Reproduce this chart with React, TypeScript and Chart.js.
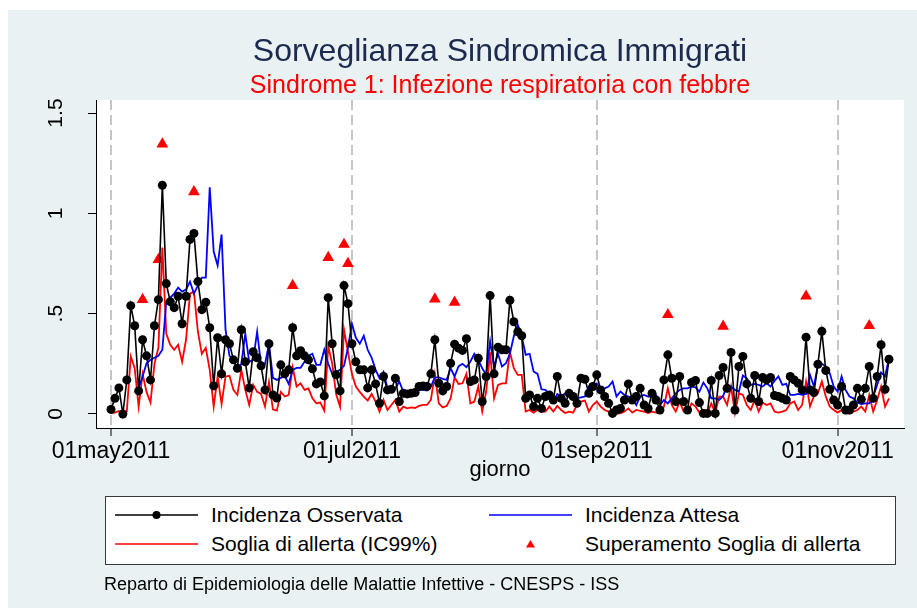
import React, { useEffect, useRef } from 'react';
import { Chart, registerables } from 'chart.js';

Chart.register(...registerables);

const FONT = "'Liberation Sans', Arial, Helvetica, sans-serif";
const BG = 'rgb(233,241,243)';

const TITLE = 'Sorveglianza Sindromica Immigrati';
const SUBTITLE = 'Sindrome 1: Infezione respiratoria con febbre';
const X_TITLE = 'giorno';
const FOOTER = 'Reparto di Epidemiologia delle Malattie Infettive - CNESPS - ISS';

// day index 0 = 01may2011
const xTickDays = [0, 61, 123, 184];
const xTickLabels = ['01may2011', '01jul2011', '01sep2011', '01nov2011'];
const yTickValues = [0, 0.5, 1, 1.5];
const yTickLabels = ['0', '.5', '1', '1.5'];

const observed = [
  0.023, 0.078, 0.13, 0.0, 0.17, 0.54, 0.44, 0.115, 0.37, 0.29,
  0.17, 0.44, 0.57, 1.14, 0.65, 0.56, 0.53, 0.587, 0.45, 0.587,
  0.87, 0.9, 0.66, 0.52, 0.557, 0.43, 0.14, 0.38, 0.2, 0.37,
  0.35, 0.27, 0.228, 0.42, 0.26, 0.13, 0.31, 0.28, 0.24, 0.12,
  0.35, 0.095, 0.08, 0.245, 0.2, 0.22, 0.43, 0.29, 0.315, 0.29,
  0.27, 0.225, 0.15, 0.16, 0.09, 0.58, 0.35, 0.195, 0.115, 0.64,
  0.55, 0.35, 0.26, 0.22, 0.22, 0.13, 0.22, 0.15, 0.053, 0.187,
  0.12, 0.123, 0.178, 0.062, 0.103, 0.1, 0.103, 0.107, 0.137, 0.14,
  0.137, 0.2, 0.37, 0.153, 0.115, 0.137, 0.253, 0.348, 0.328, 0.317,
  0.375, 0.162, 0.17, 0.278, 0.062, 0.187, 0.59, 0.2, 0.333, 0.32,
  0.32, 0.567, 0.46, 0.41, 0.39, 0.078, 0.095, 0.037, 0.078, 0.028,
  0.087, 0.095, 0.07, 0.187, 0.078, 0.053, 0.103, 0.087, 0.053, 0.178,
  0.173, 0.103, 0.137, 0.195, 0.12, 0.087, 0.053, 0.003, 0.02, 0.028,
  0.07, 0.15, 0.07, 0.087, 0.128, 0.045, 0.028, 0.103, 0.07, 0.02,
  0.17, 0.295, 0.178, 0.062, 0.187, 0.062, 0.02, 0.157, 0.167, 0.057,
  0.003, 0.003, 0.167, 0.003, 0.192, 0.232, 0.128, 0.307, 0.02, 0.237,
  0.287, 0.15, 0.078, 0.192, 0.062, 0.182, 0.17, 0.182, 0.092, 0.087,
  0.078, 0.07, 0.187, 0.17, 0.153, 0.12, 0.383, 0.12, 0.107, 0.248,
  0.412, 0.217, 0.123, 0.07, 0.045, 0.137, 0.02, 0.02, 0.045, 0.128,
  0.073, 0.128, 0.237, 0.078, 0.187, 0.345, 0.123, 0.273,
];

const expected = [
  null, null, null, null, null, null, null, 0.128, 0.187, 0.253,
  0.27, 0.28, 0.29, 0.32, 0.56, 0.58, 0.6, 0.63, 0.61, 0.62,
  0.66, 0.6, 0.64, 0.68, 0.68, 1.13, 0.81, 0.74, 0.895, 0.42,
  0.29, 0.27, 0.22, 0.25, 0.4, 0.26, 0.27, 0.41, 0.245, 0.25,
  0.35, 0.18, 0.17, 0.18, 0.19, 0.15, 0.22, 0.23, 0.23, 0.26,
  0.29, 0.3, 0.245, 0.245, 0.32, 0.25, 0.2, 0.21, 0.22, 0.24,
  0.33, 0.45, 0.38, 0.35, 0.39, 0.32, 0.28, 0.22, 0.178, 0.21,
  0.128, 0.112, 0.128, 0.162, 0.112, 0.103, 0.108, 0.115, 0.12, 0.12,
  0.117, 0.137, 0.183, 0.183, 0.175, 0.17, 0.228, 0.187, 0.237, 0.25,
  0.233, 0.262, 0.3, 0.27, 0.228, 0.195, 0.362, 0.237, 0.3, 0.237,
  0.253, 0.3, 0.387, 0.445, 0.387, 0.295, 0.3, 0.212, 0.2, 0.123,
  0.12, 0.095, 0.062, 0.1, 0.087, 0.103, 0.087, 0.087, 0.078, 0.083,
  0.087, 0.137, 0.145, 0.153, 0.12, 0.128, 0.137, 0.162, 0.087, 0.112,
  0.095, 0.087, 0.078, 0.045, 0.087, 0.095, 0.087, 0.087, 0.095, 0.045,
  0.07, 0.053, 0.078, 0.103, 0.12, 0.128, 0.128, 0.137, 0.133, 0.112,
  0.157, 0.128, 0.078, 0.078, 0.07, 0.09, 0.145, 0.137, 0.12, 0.112,
  0.192, 0.178, 0.145, 0.15, 0.145, 0.137, 0.153, 0.137, 0.165, 0.187,
  0.145, 0.15, 0.095, 0.095, 0.1, 0.095, 0.1, 0.195, 0.137, 0.245,
  0.25, 0.237, 0.203, 0.137, 0.112, 0.187, 0.12, 0.087, 0.078, 0.057,
  0.05, 0.053, 0.053, 0.087, 0.145, 0.207, 0.187, 0.278,
];

const threshold = [
  0.005, 0.007, 0.015, 0.0, 0.012, 0.287, 0.228, 0.037, 0.2, 0.11,
  0.057, 0.25, 0.33, 0.83, 0.4, 0.345, 0.32, 0.345, 0.26, 0.37,
  0.6, 0.61, 0.41, 0.3, 0.33, 0.22, 0.037, 0.187, 0.05, 0.187,
  0.19, 0.12, 0.095, 0.22, 0.12, 0.045, 0.145, 0.11, 0.1, 0.037,
  0.16, 0.023, 0.017, 0.11, 0.087, 0.095, 0.233, 0.137, 0.153, 0.12,
  0.128, 0.078, 0.053, 0.057, 0.017, 0.337, 0.253, 0.1, 0.037, 0.42,
  0.31, 0.2, 0.137, 0.11, 0.087, 0.067, 0.1, 0.062, 0.012, 0.07,
  0.02, 0.045, 0.07, 0.012, 0.037, 0.028, 0.033, 0.03, 0.04, 0.045,
  0.045, 0.07, 0.2, 0.053, 0.033, 0.04, 0.078, 0.183, 0.15, 0.153,
  0.2, 0.053, 0.062, 0.137, 0.012, 0.112, 0.307, 0.078, 0.145, 0.153,
  0.153, 0.31, 0.228, 0.195, 0.195, 0.012, 0.02, 0.007, 0.02, 0.012,
  0.012, 0.037, 0.012, 0.04, 0.02, 0.005, 0.012, 0.007, 0.045, 0.062,
  0.067, 0.012, 0.045, 0.062, 0.037, 0.02, 0.012, 0.005, 0.003, 0.003,
  0.012, 0.028, 0.007, 0.02, 0.015, 0.012, 0.005, 0.012, 0.007, 0.005,
  0.037, 0.128, 0.045, 0.012, 0.062, 0.012, 0.005, 0.053, 0.037, 0.007,
  0.005, 0.003, 0.053, 0.005, 0.087, 0.087, 0.045, 0.137, 0.005, 0.103,
  0.095, 0.045, 0.02, 0.07, 0.012, 0.057, 0.045, 0.053, 0.012, 0.007,
  0.012, 0.02, 0.053, 0.062, 0.02, 0.045, 0.162, 0.037, 0.09, 0.103,
  0.162, 0.087, 0.037, 0.02, 0.007, 0.02, 0.003, 0.003, 0.012, 0.02,
  0.037, 0.012, 0.095, 0.012, 0.07, 0.137, 0.037, 0.078,
];

const exceedDays = [8, 12, 13, 21, 46, 55, 59, 60, 82, 87, 141, 155, 176, 192];
const exceedValues = [0.57, 0.77, 1.345, 1.107, 0.64, 0.78, 0.845, 0.75, 0.573, 0.557, 0.495, 0.437, 0.587, 0.44];

const legendLabels = [
  'Incidenza Osservata',
  'Incidenza Attesa',
  'Soglia di allerta (IC99%)',
  'Superamento Soglia di allerta',
];

const BLACK = '#000000';
const BLUE = '#0000ff';
const RED = '#ff0000';

const bgPlugin = {
  id: 'stataBackground',
  beforeDraw(chart: any) {
    const { ctx, width, height, chartArea } = chart;
    ctx.save();
    ctx.fillStyle = '#ffffff';
    ctx.fillRect(0, 0, width, height);
    ctx.fillStyle = BG;
    ctx.fillRect(8, 10, width - 8, height - 10);
    ctx.fillStyle = '#ffffff';
    ctx.fillRect(chartArea.left, chartArea.top, chartArea.right - chartArea.left, chartArea.bottom - chartArea.top);
    ctx.restore();
  },
};

function LegendSymbol({ kind }: { kind: string }) {
  return (
    <svg width={84} height={14} style={{ display: 'block' }}>
      {kind === 'obs' && (
        <>
          <line x1={0} y1={7} x2={83} y2={7} stroke={BLACK} strokeWidth={1.5} />
          <circle cx={41.5} cy={7} r={4} fill={BLACK} />
        </>
      )}
      {kind === 'exp' && <line x1={0} y1={7} x2={83} y2={7} stroke={BLUE} strokeWidth={1.5} />}
      {kind === 'thr' && <line x1={0} y1={7} x2={83} y2={7} stroke={RED} strokeWidth={1.5} />}
      {kind === 'exc' && <polygon points="41.5,3 46,10.5 37,10.5" fill={RED} />}
    </svg>
  );
}

export default function App() {
  const canvasRef = useRef<HTMLCanvasElement | null>(null);

  useEffect(() => {
    const canvas = canvasRef.current;
    if (!canvas) return;
    const chart = new Chart(canvas, {
      type: 'line',
      data: {
        datasets: [
          {
            label: legendLabels[0],
            data: observed.map((v, i) => ({ x: i, y: v })),
            borderColor: BLACK,
            backgroundColor: BLACK,
            borderWidth: 1.6,
            pointRadius: 4.5,
            pointBackgroundColor: BLACK,
            pointBorderWidth: 0,
            tension: 0,
            order: 0,
          },
          {
            label: legendLabels[1],
            data: expected.map((v, i) => ({ x: i, y: v })),
            borderColor: BLUE,
            borderWidth: 1.8,
            pointRadius: 0,
            tension: 0,
            spanGaps: false,
            order: 2,
          },
          {
            label: legendLabels[2],
            data: threshold.map((v, i) => ({ x: i, y: v })),
            borderColor: RED,
            borderWidth: 1.8,
            pointRadius: 0,
            tension: 0,
            order: 3,
          },
          {
            label: legendLabels[3],
            data: exceedDays.map((d, i) => ({ x: d, y: exceedValues[i] })),
            showLine: false,
            pointStyle: 'triangle',
            pointRadius: 6.8,
            pointBackgroundColor: RED,
            pointBorderColor: RED,
            pointBorderWidth: 0,
            order: 1,
          },
        ] as any,
      },
      options: {
        responsive: false,
        maintainAspectRatio: false,
        animation: false,
        events: [],
        layout: { padding: { left: 0, right: 13, top: 0, bottom: 124.8 } },
        plugins: {
          legend: { display: false },
          tooltip: { enabled: false },
          title: {
            display: true,
            text: TITLE,
            fullSize: false,
            color: '#1b2a4e',
            font: { family: FONT, size: 32, weight: 'normal', lineHeight: 1.2 },
            padding: { top: 32.5, bottom: 0 },
          },
          subtitle: {
            display: true,
            text: SUBTITLE,
            fullSize: false,
            color: RED,
            font: { family: FONT, size: 25, weight: 'normal', lineHeight: 1.0 },
            padding: { top: 2.6, bottom: 1.5 },
          },
        },
        scales: {
          x: {
            type: 'linear',
            min: -3.8,
            max: 200.8,
            afterBuildTicks: (scale: any) => {
              scale.ticks = xTickDays.map((v) => ({ value: v }));
            },
            afterFit: (scale: any) => {
              scale.height = 55.2;
            },
            ticks: {
              autoSkip: false,
              maxRotation: 0,
              minRotation: 0,
              padding: 2,
              color: BLACK,
              font: { family: FONT, size: 23 },
              callback: (v: any) => {
                const idx = xTickDays.indexOf(Number(v));
                return idx >= 0 ? xTickLabels[idx] : '';
              },
            },
            grid: {
              display: true,
              drawOnChartArea: true,
              color: '#c6c6c6',
              lineWidth: 2,
              tickLength: 8,
              tickColor: BLACK,
              tickWidth: 1,
            },
            border: { display: true, color: BLACK, width: 1, dash: [10, 5] },
            title: {
              display: true,
              text: X_TITLE,
              color: BLACK,
              font: { family: FONT, size: 22 },
              padding: 0,
            },
          },
          y: {
            type: 'linear',
            min: -0.0698,
            max: 1.565,
            afterBuildTicks: (scale: any) => {
              scale.ticks = yTickValues.map((v) => ({ value: v }));
            },
            afterFit: (scale: any) => {
              scale.width = 96;
            },
            ticks: {
              minRotation: 90,
              maxRotation: 90,
              crossAlign: 'center',
              padding: 17,
              color: BLACK,
              font: { family: FONT, size: 21 },
              callback: (v: any) => {
                const idx = yTickValues.indexOf(Number(v));
                return idx >= 0 ? yTickLabels[idx] : '';
              },
            },
            grid: {
              drawOnChartArea: false,
              tickLength: 8,
              tickColor: BLACK,
              tickWidth: 1,
            },
            border: { display: true, color: BLACK, width: 1 },
          },
        },
      } as any,
      plugins: [bgPlugin],
    });
    return () => chart.destroy();
  }, []);

  const textStyle: React.CSSProperties = {
    position: 'absolute',
    fontFamily: FONT,
    fontSize: 21,
    lineHeight: '24px',
    height: 24,
    color: BLACK,
    whiteSpace: 'nowrap',
  };

  const items = [
    { kind: 'obs', label: legendLabels[0], sx: 115, tx: 211, cy: 515 },
    { kind: 'exp', label: legendLabels[1], sx: 489, tx: 585, cy: 515 },
    { kind: 'thr', label: legendLabels[2], sx: 115, tx: 211, cy: 544 },
    { kind: 'exc', label: legendLabels[3], sx: 489, tx: 585, cy: 544 },
  ];

  return (
    <div style={{ position: 'absolute', left: 0, top: 0, width: 917, height: 608, overflow: 'hidden' }}>
      <canvas ref={canvasRef} width={917} height={608} style={{ display: 'block', width: 917, height: 608 }} />
      <div
        style={{
          position: 'absolute',
          left: 105,
          top: 496,
          width: 791,
          height: 69,
          boxSizing: 'border-box',
          border: '1px solid #3a3a3a',
          background: '#ffffff',
        }}
      />
      {items.map((it) => (
        <React.Fragment key={it.label}>
          <div style={{ position: 'absolute', left: it.sx, top: it.cy - 7 }}>
            <LegendSymbol kind={it.kind} />
          </div>
          <div style={{ ...textStyle, left: it.tx, top: it.cy - 12 }}>{it.label}</div>
        </React.Fragment>
      ))}
      <div
        style={{
          position: 'absolute',
          left: 104,
          top: 572,
          fontFamily: FONT,
          fontSize: 18,
          lineHeight: '24px',
          color: BLACK,
          whiteSpace: 'nowrap',
        }}
      >
        {FOOTER}
      </div>
    </div>
  );
}
